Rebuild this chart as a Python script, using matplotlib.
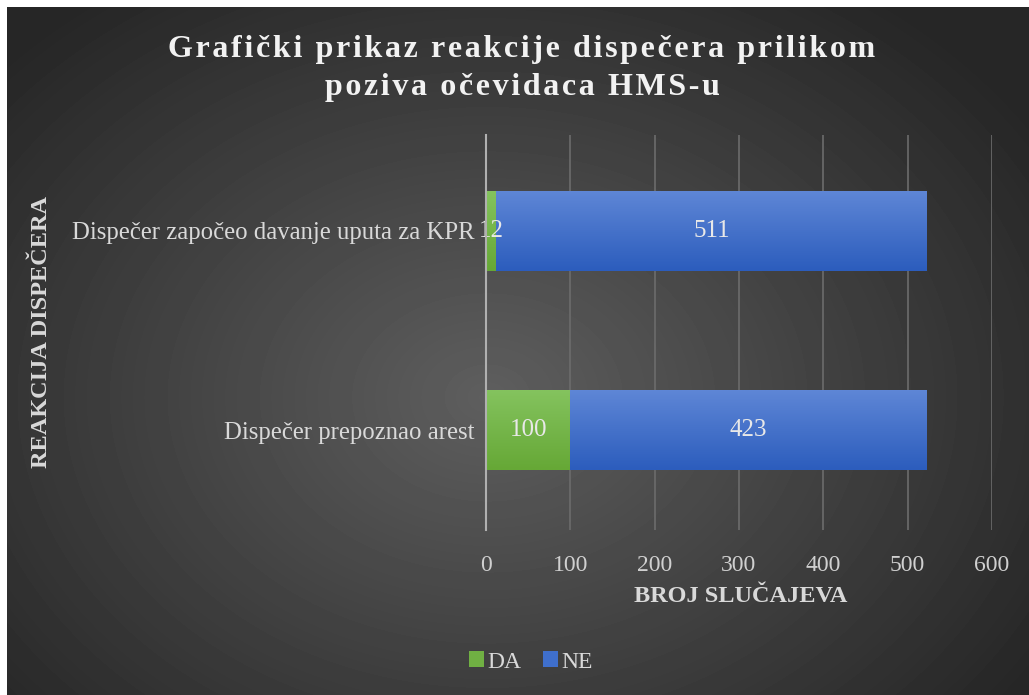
import numpy as np
import matplotlib
matplotlib.use("Agg")
import matplotlib.pyplot as plt
from matplotlib.colors import LinearSegmentedColormap

kategorije = ["Dispečer prepoznao arest", "Dispečer započeo davanje uputa za KPR"]
da = [100, 12]
ne = [423, 511]
xticks = [0, 100, 200, 300, 400, 500, 600]

plt.rcParams['font.family'] = ['Liberation Serif', 'DejaVu Serif']

W, H = 1029, 695
fig = plt.figure(figsize=(W / 100, H / 100), dpi=100)
fig.patch.set_facecolor('white')

# pozadina - radijalni gradijent
bg = fig.add_axes([7 / W, 0, 1 - 7 / W, 1 - 7 / H])
bg.set_axis_off()
yy, xx = np.mgrid[0:688, 0:1022]
d = np.sqrt(((xx - 480) / 650.0) ** 2 + ((yy - 390) / 500.0) ** 2)
d = np.clip(d, 0, 1)
grad = 0.37 - 0.22 * d
bg.imshow(grad, cmap='gray', vmin=0, vmax=1, aspect='auto', interpolation='bilinear')

ax = fig.add_axes([486 / W, 1 - 530 / H, (992 - 486) / W, (530 - 135) / H])
ax.patch.set_alpha(0)

y = np.arange(len(kategorije))
b1 = ax.barh(y, da, height=0.4, color='#70b043', label='DA', zorder=3)
b2 = ax.barh(y, ne, left=da, height=0.4, color='#3f6fcc', label='NE', zorder=3)

# vertikalni gradijent na trakama
cm_da = LinearSegmentedColormap.from_list('da', ['#66a836', '#84c35e'])
cm_ne = LinearSegmentedColormap.from_list('ne', ['#2c5dbd', '#5e86d6'])
g = np.linspace(0, 1, 64).reshape(-1, 1)
for bars, cm in [(b1, cm_da), (b2, cm_ne)]:
    for r in bars:
        x0, y0 = r.get_x(), r.get_y()
        im = ax.imshow(g, cmap=cm, aspect='auto', origin='lower', zorder=3.5,
                       extent=[x0, x0 + r.get_width(), y0, y0 + r.get_height()])
        im.set_clip_path(r)

for i in range(len(kategorije)):
    ax.text(da[i] / 2, y[i], str(da[i]), ha='center', va='center',
            color='#e8e8e8', fontsize=18, zorder=4)
    ax.text(da[i] + ne[i] / 2, y[i], str(ne[i]), ha='center', va='center',
            color='#e8e8e8', fontsize=18, zorder=4)

ax.set_xlim(0, 600)
ax.set_ylim(-0.5, 1.48)
ax.set_xticks(xticks)
ax.set_yticks(y)
ax.set_yticklabels(kategorije)
ax.tick_params(axis='x', length=0, pad=18, labelsize=17, labelcolor='#d0d0d0')
ax.tick_params(axis='y', length=0, pad=8, labelsize=17.8, labelcolor='#d9d9d9')
ax.grid(axis='x', color='#6c6c6c', linewidth=1.2, zorder=0)
for s in ['top', 'right', 'bottom']:
    ax.spines[s].set_visible(False)
ax.spines['left'].set_color('#b0b0b0')
ax.spines['left'].set_linewidth(1.5)
ax.spines['left'].set_zorder(5)

fig.text(741 / W, 1 - 597 / H, 'BROJ SLUČAJEVA', ha='center', va='center',
         fontsize=17.5, fontweight='bold', color='#d9d9d9')
fig.text(42 / W, 1 - 332 / H, 'REAKCIJA DISPEČERA', ha='center', va='center',
         rotation=90, fontsize=17.5, fontweight='bold', color='#d9d9d9')

hs = '\u200a'
naslov1 = hs.join('Grafički prikaz reakcije dispečera prilikom')
naslov2 = hs.join('poziva očevidaca HMS-u')
fig.text(522 / W, 1 - 50 / H, naslov1,
         ha='center', va='center', fontsize=23, fontweight='bold', color='#f2f2f2')
fig.text(522 / W, 1 - 87 / H, naslov2,
         ha='center', va='center', fontsize=23, fontweight='bold', color='#f2f2f2')

leg = fig.legend(handles=[b1, b2], loc='center', bbox_to_anchor=(531 / W, 1 - 662 / H),
                 ncol=2, frameon=False, fontsize=17, handlelength=0.65, handleheight=0.65,
                 handletextpad=0.15, columnspacing=0.9)
for t in leg.get_texts():
    t.set_color('#d9d9d9')

fig.savefig('out.png', dpi=100)
